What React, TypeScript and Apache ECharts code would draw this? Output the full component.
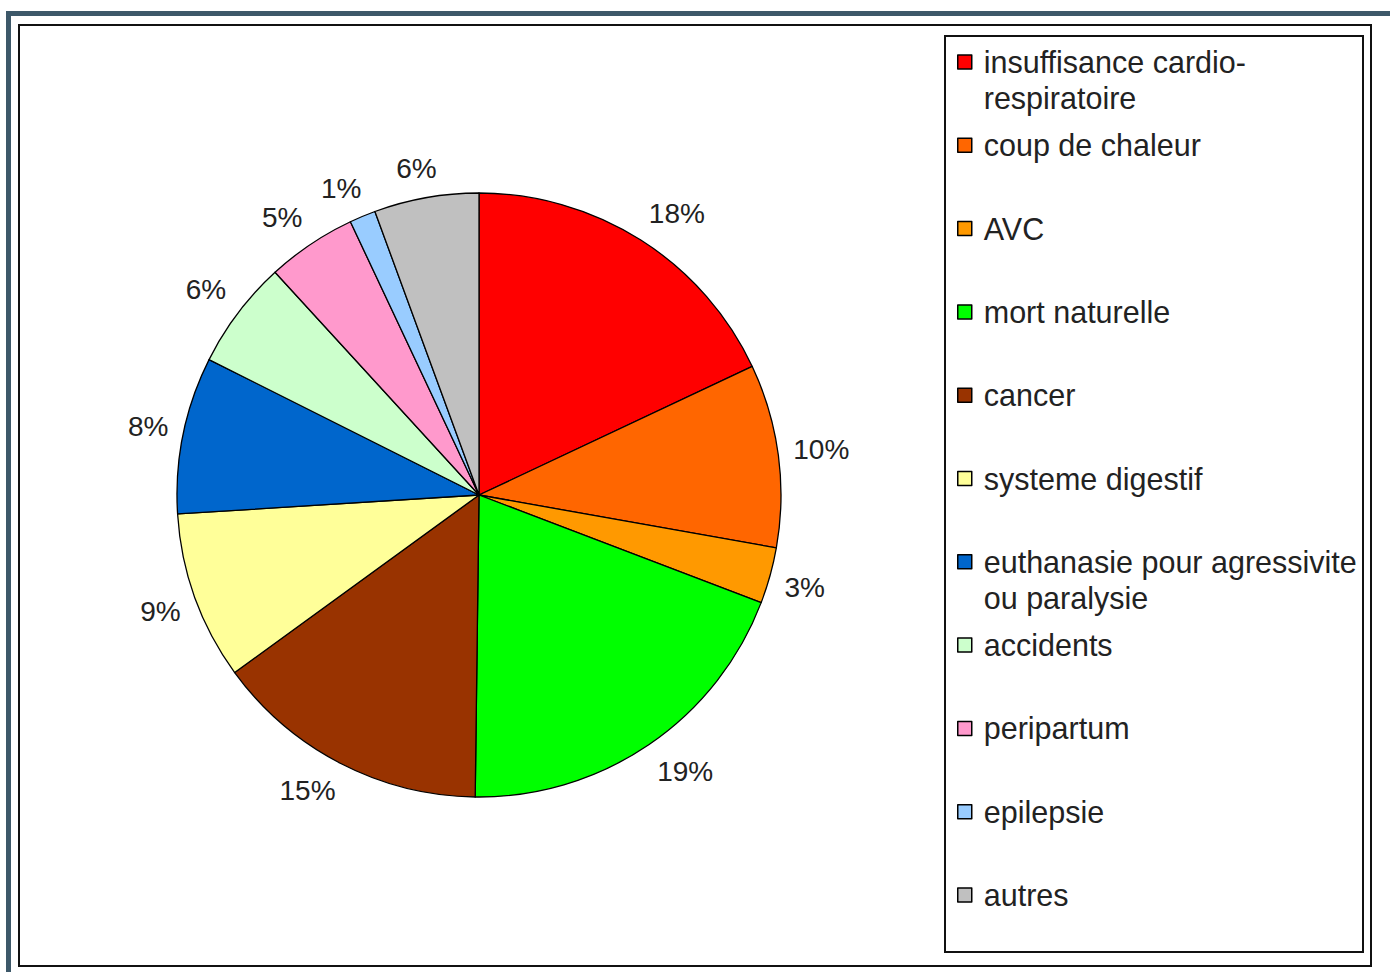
import React, { useEffect, useRef } from "react";
import * as echarts from "echarts";

const categories = [
  "insuffisance cardio-respiratoire",
  "coup de chaleur",
  "AVC",
  "mort naturelle",
  "cancer",
  "systeme digestif",
  "euthanasie pour agressivite ou paralysie",
  "accidents",
  "peripartum",
  "epilepsie",
  "autres",
];
// shares (%); labels are rounded
const shares = [18.0, 9.8, 3.0, 19.4, 14.8, 9.0, 8.4, 5.8, 4.8, 1.4, 5.6];
const colors = [
  "#ff0000",
  "#ff6600",
  "#ff9900",
  "#00ff00",
  "#993300",
  "#ffff99",
  "#0066cc",
  "#ccffcc",
  "#ff99cc",
  "#99ccff",
  "#c0c0c0",
];
const legendBreaks: Record<string, string> = {
  "insuffisance cardio-respiratoire": "insuffisance cardio-\nrespiratoire",
  "euthanasie pour agressivite ou paralysie": "euthanasie pour agressivite\nou paralysie",
};

const FONT = "'Liberation Sans', Arial, sans-serif";
const CENTER = [479, 495];
const R = 302;

export default function App() {
  const ref = useRef<HTMLDivElement>(null);
  useEffect(() => {
    if (!ref.current) return;
    const chart = echarts.init(ref.current, null, { renderer: "svg" });
    const data = categories.map((name, i) => ({
      name,
      value: shares[i],
      itemStyle: { color: colors[i] },
    }));
    const labelData = categories.map((name, i) => ({ name, value: shares[i] }));
    const LINE = 36;
    const option: any = {
      animation: false,
      backgroundColor: "#ffffff",
      graphic: [
        {
          type: "rect",
          z: -10,
          shape: { x: 8.5, y: 13.5, width: 1400, height: 1000 },
          style: { fill: "none", stroke: "#3d5869", lineWidth: 5 },
        },
        {
          type: "rect",
          z: -10,
          shape: { x: 19, y: 25, width: 1352, height: 941 },
          style: { fill: "none", stroke: "#111", lineWidth: 2 },
        },
        {
          type: "rect",
          z: -10,
          shape: { x: 945, y: 36, width: 418, height: 916 },
          style: { fill: "none", stroke: "#111", lineWidth: 2 },
        },
      ],
      legend: {
        orient: "vertical",
        left: 957,
        top: 8,
        padding: 0,
        itemWidth: 14,
        itemHeight: 14,
        itemGap: 83.3 - 3 * LINE,
        icon: "rect",
        selectedMode: false,
        itemStyle: { borderColor: "#000", borderWidth: 1.5 },
        // three text lines per entry, the entry's first line is the middle one
        formatter: (name: string) =>
          legendBreaks[name] ? "\n" + legendBreaks[name] : "\n" + name + "\n",
        textStyle: {
          fontFamily: FONT,
          fontSize: 30.5,
          color: "#222",
          lineHeight: LINE,
          padding: [0, 0, 0, 7],
          backgroundColor: "transparent",
        },
        data: categories,
      },
      series: [
        {
          type: "pie",
          center: CENTER,
          radius: R,
          startAngle: 90,
          clockwise: true,
          silent: true,
          label: { show: false },
          labelLine: { show: false },
          itemStyle: { borderColor: "#000", borderWidth: 1.3 },
          data,
        },
        {
          type: "pie",
          center: CENTER,
          radius: [R, R + 80],
          startAngle: 90,
          clockwise: true,
          silent: true,
          legendHoverLink: false,
          percentPrecision: 0,
          itemStyle: { color: "rgba(0,0,0,0)", borderWidth: 0 },
          emphasis: { disabled: true },
          label: {
            show: true,
            position: "inside",
            formatter: "{d}%",
            fontFamily: FONT,
            fontSize: 28,
            color: "#222",
            textBorderWidth: 0,
          },
          labelLine: { show: false },
          labelLayout: (params: any) => {
            const r = params.labelRect;
            const cx = r.x + r.width / 2;
            const cy = r.y + r.height / 2;
            const dx = cx - CENTER[0];
            const dy = cy - CENTER[1];
            const len = Math.hypot(dx, dy) || 1;
            const ux = dx / len;
            const uy = dy / len;
            const clamp = (v: number) => Math.max(-1, Math.min(1, v * 2));
            const d = R + 15;
            return {
              x: CENTER[0] + d * ux + (r.width / 2) * clamp(ux),
              y: CENTER[1] + d * uy + (r.height / 2) * clamp(uy),
            };
          },
          data: labelData,
        },
      ],
    };
    chart.setOption(option);
    return () => chart.dispose();
  }, []);
  return (
    <div
      ref={ref}
      style={{
        position: "fixed",
        left: 0,
        top: 0,
        width: 1390,
        height: 972,
        background: "#fff",
      }}
    />
  );
}
